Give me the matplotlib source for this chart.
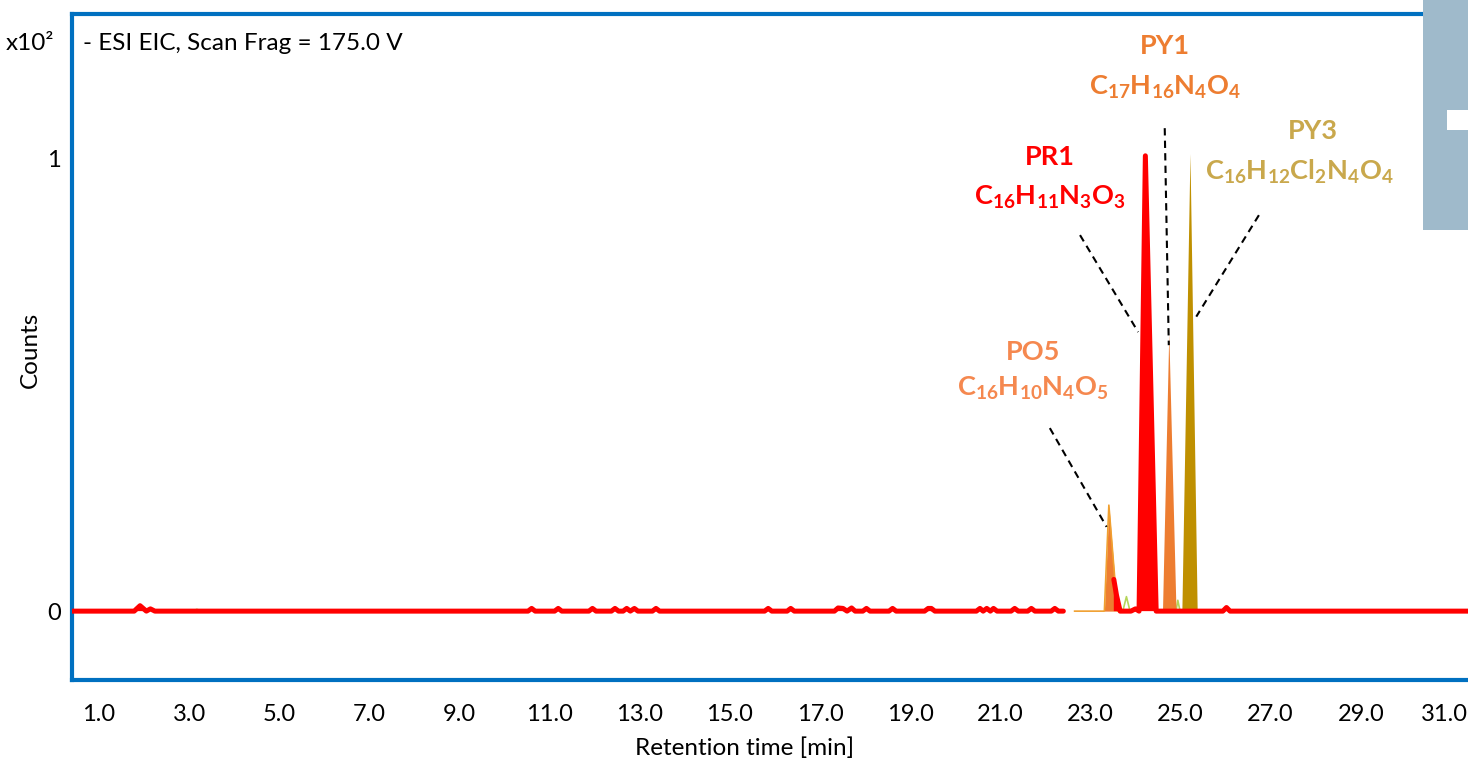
import numpy as np
import matplotlib
matplotlib.use("Agg")
import matplotlib.pyplot as plt
import matplotlib.transforms as mtransforms
from matplotlib.patches import Rectangle

plt.rcParams['font.family'] = ['Lato', 'DejaVu Sans']
plt.rcParams['mathtext.fontset'] = 'custom'
plt.rcParams['mathtext.rm'] = 'Lato'
plt.rcParams['mathtext.bf'] = 'Lato:bold'

nan = np.nan

# retention time [min] / counts (x10^2)
pr1_rt = [0.40, 1.78, 1.91, 2.05, 2.14, 2.24, 2.34,
          10.52, 10.60, 10.68, 11.11, 11.19, 11.27, 11.87, 11.95, 12.03,
          12.37, 12.45, 12.53, 12.63, 12.71, 12.79, 12.88, 12.96,
          13.28, 13.36, 13.44, 15.77, 15.85, 15.93, 16.27, 16.35, 16.43,
          17.32, 17.40, 17.51, 17.60, 17.70, 17.78, 17.95, 18.03, 18.11,
          18.53, 18.61, 18.69, 19.32, 19.40, 19.47, 19.55,
          20.47, 20.55, 20.62, 20.70, 20.78, 20.85, 20.93,
          21.24, 21.32, 21.40, 21.61, 21.69, 21.77, 22.13, 22.21, 22.29, 22.40,
          22.41, 23.50, 23.52, 23.58, 23.66, 23.90, 24.00, 24.08, 24.22, 24.46,
          24.60, 25.94, 26.02, 26.10, 31.40]
pr1_counts = [0, 0, 0.012, 0, 0.005, 0, 0,
              0, 0.006, 0, 0, 0.006, 0, 0, 0.006, 0,
              0, 0.006, 0, 0, 0.006, 0, 0.006, 0,
              0, 0.006, 0, 0, 0.006, 0, 0, 0.006, 0,
              0, 0.007, 0.006, 0, 0.007, 0, 0, 0.006, 0,
              0, 0.006, 0, 0, 0.006, 0.006, 0,
              0, 0.006, 0, 0.006, 0, 0.006, 0,
              0, 0.006, 0, 0, 0.006, 0, 0, 0.006, 0, 0,
              nan, nan, 0.070, 0.035, 0, 0, 0.005, 0, 1.005, 0,
              0, 0, 0.008, 0, 0]

po5_rt = [22.65, 23.31, 23.41, 23.60, 23.70]
po5_counts = [0, 0, 0.234, 0, 0]

py1_rt = [24.50, 24.60, 24.74, 24.90, 25.00]
py1_counts = [0, 0, 0.614, 0, 0]

py3_rt = [24.90, 25.03, 25.21, 25.37, 25.50]
py3_counts = [0, 0, 1.01, 0, 0]

other_rt = [2.95, 3.08, 3.17, 3.28, 3.40, 23.62, 23.72, 23.80, 23.88, 24.00,
            24.84, 24.90, 24.94, 24.99, 25.05]
other_counts = [0, 0, 0.004, 0, 0, 0, 0, 0.032, 0, 0,
                0, 0, 0.024, 0, 0]
other_breaks = [5, 10]

x_ticks = [1.0, 3.0, 5.0, 7.0, 9.0, 11.0, 13.0, 15.0, 17.0, 19.0, 21.0,
           23.0, 25.0, 27.0, 29.0, 31.0]

red = '#FF0000'
orange = '#ED7D31'
gold = '#BF9000'
blue = '#0070C0'

fig = plt.figure(figsize=(14.68, 7.62), dpi=100)
ax = fig.add_axes([72 / 1468, 82 / 762, 1396 / 1468, 666 / 762])
ax.set_xlim(0.40, 31.38)
ax.set_ylim(-0.152, 1.318)

# minor trace
o_rt = np.insert(np.array(other_rt, dtype=float), other_breaks, nan)
o_c = np.insert(np.array(other_counts, dtype=float), other_breaks, nan)
ax.plot(o_rt, o_c, color='#B5D55A', lw=1.2, zorder=2)

ax.fill_between(po5_rt, po5_counts, color=orange, lw=0, zorder=3)
ax.plot(po5_rt, po5_counts, color='#F0A030', lw=1.2, zorder=3)
ax.fill_between(py1_rt, py1_counts, color=orange, lw=0, zorder=3)
ax.fill_between(py3_rt, py3_counts, color=gold, lw=0, zorder=3)

pr1_c = np.array(pr1_counts, dtype=float)
ax.fill_between(pr1_rt, np.nan_to_num(pr1_c), where=~np.isnan(pr1_c),
                color=red, lw=0, zorder=4)
ax.plot(pr1_rt, pr1_c, color=red, lw=3.6, solid_joinstyle='round',
        solid_capstyle='round', zorder=4)

# peak labels
lab = dict(ha='center', va='center', fontsize=19.5, fontweight='bold')
ax.text(24.66, 1.247, 'PY1', color=orange, **lab)
ax.text(24.66, 1.155, r'$\mathbf{C_{17}H_{16}N_{4}O_{4}}$', color=orange, **lab)
ax.text(22.10, 1.002, 'PR1', color=red, **lab)
ax.text(22.10, 0.914, r'$\mathbf{C_{16}H_{11}N_{3}O_{3}}$', color=red, **lab)
ax.text(27.94, 1.060, 'PY3', color='#C9A84C', **lab)
ax.text(27.65, 0.969, r'$\mathbf{C_{16}H_{12}Cl_{2}N_{4}O_{4}}$', color='#C9A84C', **lab)
ax.text(21.72, 0.572, 'PO5', color='#F5884F', **lab)
ax.text(21.72, 0.492, r'$\mathbf{C_{16}H_{10}N_{4}O_{5}}$', color='#F5884F', **lab)

dash = dict(color='black', lw=1.5, ls=(0, (3.5, 2.5)), zorder=5)
ax.plot([22.77, 24.06], [0.830, 0.616], **dash)
ax.plot([24.65, 24.74], [1.066, 0.587], **dash)
ax.plot([26.74, 25.35], [0.874, 0.650], **dash)
ax.plot([22.10, 23.36], [0.404, 0.186], **dash)

ax.text(0.0079, 0.955, '- ESI EIC, Scan Frag = 175.0 V', transform=ax.transAxes,
        ha='left', va='center', fontsize=17.5)
fig.text(30 / 1468, 1 - 44 / 762, 'x10²', ha='center', va='center', fontsize=17.5)

ax.set_xticks(x_ticks)
ax.set_xticklabels(['%.1f' % t for t in x_ticks])
ax.set_yticks([0, 1])
ax.set_yticklabels(['0', '1'])
ax.tick_params(axis='x', length=0, pad=17, labelsize=17)
ax.tick_params(axis='y', length=0, pad=8, labelsize=17)
# keep the last tick label inside the figure
last = ax.get_xticklabels()[-1]
last.set_transform(last.get_transform() +
                   mtransforms.ScaledTranslation(-6 / 100, 0, fig.dpi_scale_trans))

ax.set_xlabel('Retention time [min]', fontsize=17.5)
ax.set_ylabel('Counts', fontsize=17.5)
ax.xaxis.label.set_va('center')
ax.yaxis.label.set_va('center')
ax.xaxis.set_label_coords(0.482, -0.102)
ax.yaxis.set_label_coords(-0.030, 0.495)

for side in ['left', 'top', 'bottom']:
    ax.spines[side].set_color(blue)
    ax.spines[side].set_linewidth(3)
ax.spines['right'].set_visible(False)

# grey block at the top right corner
fig.add_artist(Rectangle((1423 / 1468, 532 / 762), 45 / 1468, 230 / 762,
                         transform=fig.transFigure, color='#9FBACB', lw=0, zorder=10))
fig.add_artist(Rectangle((1447 / 1468, 632 / 762), 21 / 1468, 20 / 762,
                         transform=fig.transFigure, color='white', lw=0, zorder=11))

fig.savefig('out.png', dpi=100)
